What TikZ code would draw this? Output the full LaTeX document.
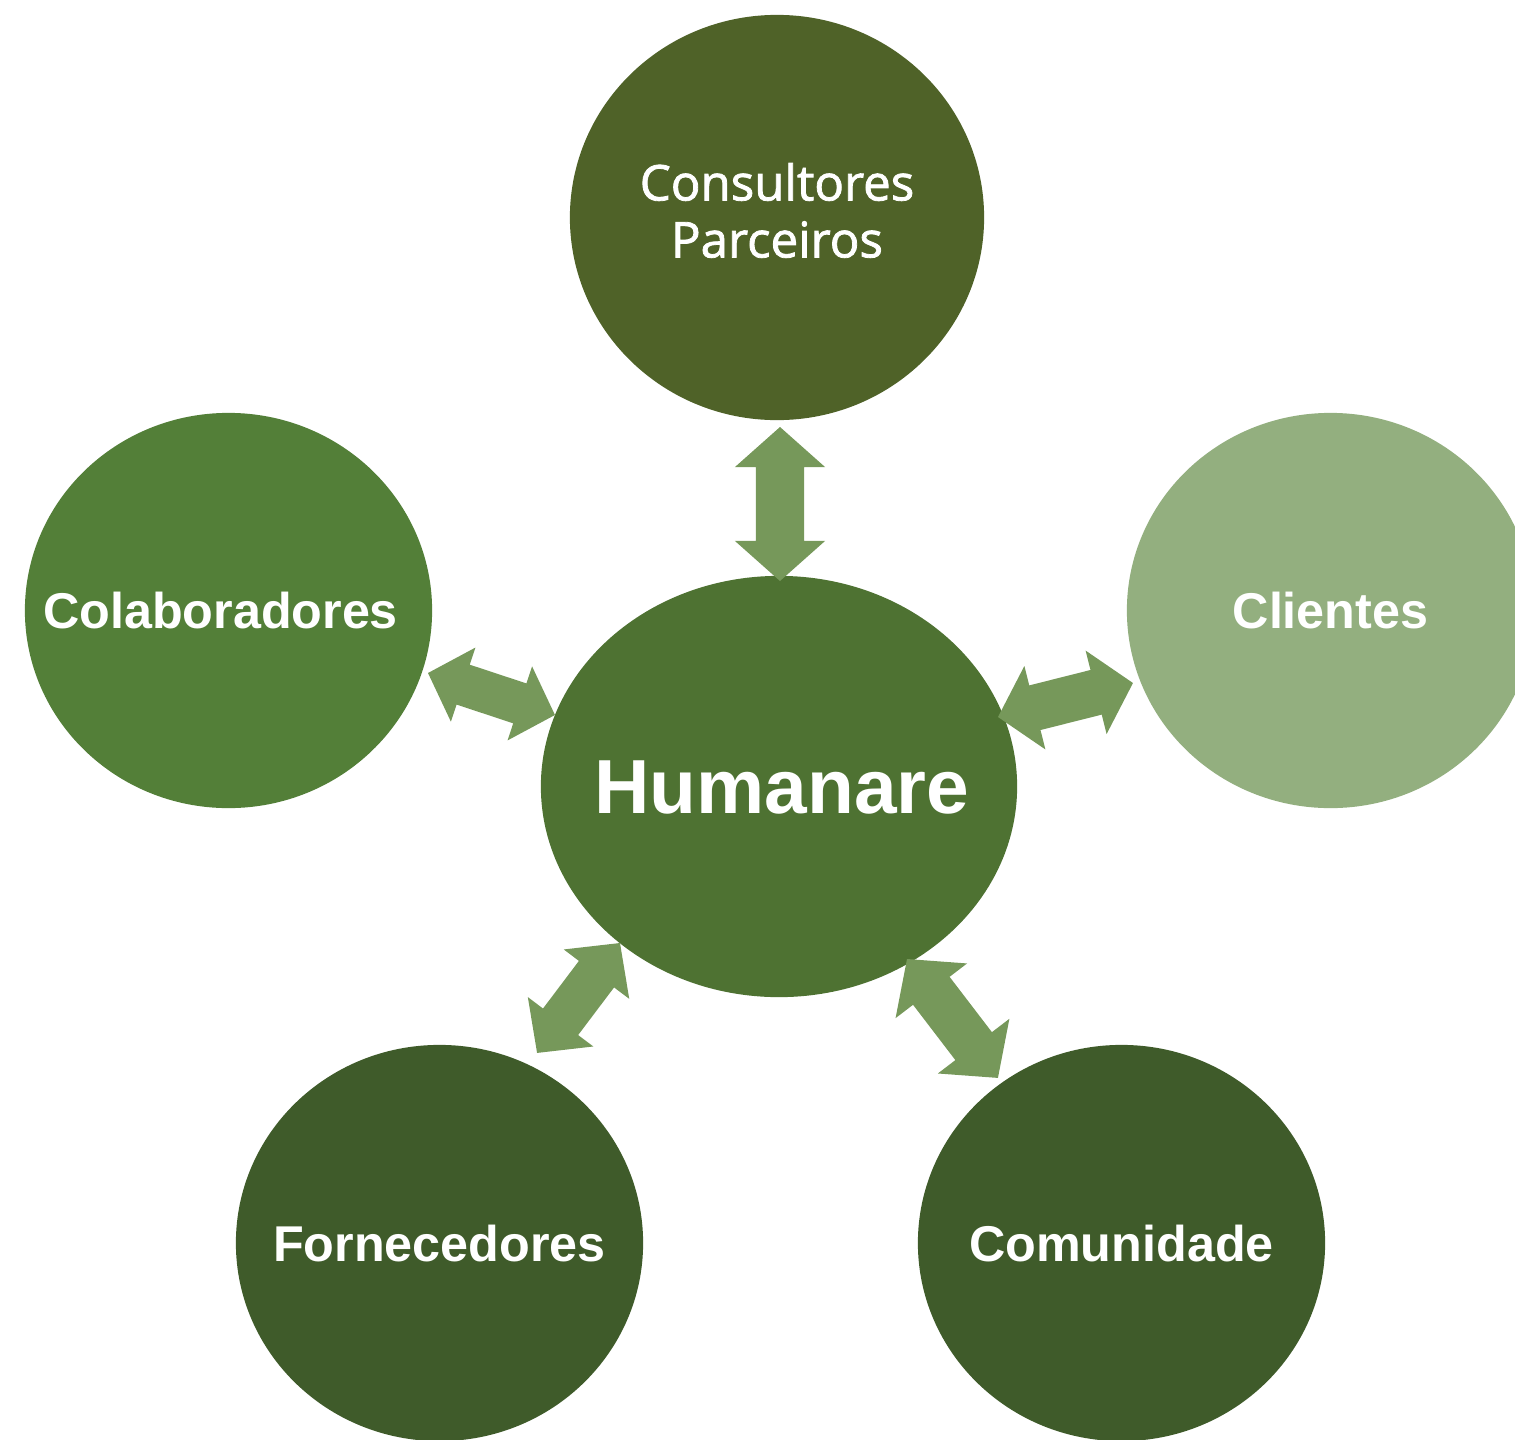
\documentclass[tikz,border=0pt]{standalone}
\usepackage{fontspec}
\setmainfont{Liberation Sans}
\newfontfamily\captionsans[FakeBold=1.6]{Open Sans}
\usetikzlibrary{shapes.geometric,calc}

\definecolor{olivegreen}{HTML}{4F6228}
\definecolor{colabgreen}{HTML}{537F38}
\definecolor{hubgreen}{HTML}{4E7232}
\definecolor{clientgreen}{HTML}{93AF7F}
\definecolor{deepgreen}{HTML}{3F5B2A}
\definecolor{linkgreen}{HTML}{76985A}

% double-headed block arrow from #1 to #2
% #3 shaft half width, #4 head half width, #5 head length
\newcommand\biarrow[5]{%
  \fill[link] let \p1=($(#2)-(#1)$), \n1={atan2(\y1,\x1)}, \n2={veclen(\x1,\y1)} in
    [shift={(#1)}, rotate=\n1]
    (0pt,0pt) -- (#5,#4) -- (#5,#3) -- ({\n2*1pt-#5},#3) -- ({\n2*1pt-#5},#4)
    -- ({\n2*1pt},0pt) -- ({\n2*1pt-#5},-#4) -- ({\n2*1pt-#5},-#3)
    -- (#5,-#3) -- (#5,-#4) -- cycle;}

\begin{document}
\begin{tikzpicture}[x=0.01cm, y=-0.01cm,
  disc/.style={ellipse, inner sep=0pt, outer sep=0pt, text=white},
  armlabel/.style={font=\bfseries\fontsize{14.3pt}{17pt}\selectfont,
                   text height=10.25pt, text depth=0pt},
  link/.style={fill=linkgreen}]
\useasboundingbox (0,0) rectangle (1515,1439);
\clip (0,0) rectangle (1515,1439);

% outer partners
\node[disc, fill=olivegreen, minimum width=4.14cm, minimum height=4.05cm,
      font=\captionsans\fontsize{14pt}{16.2pt}\selectfont] (top) at (777,217.5)
  {\makebox[0pt]{\begin{tabular}{@{}c@{}}Consultores\\Parceiros\end{tabular}}};
\node[disc, armlabel, fill=colabgreen, minimum width=4.07cm, minimum height=3.95cm]
  (colab) at (228.5,610.5) {\makebox[0pt]{\hspace*{-0.16cm}Colaboradores}};
\node[disc, armlabel, fill=clientgreen, minimum width=4.07cm, minimum height=3.95cm]
  (clientes) at (1330.5,610.5) {\makebox[0pt]{Clientes}};
\node[disc, armlabel, fill=deepgreen, minimum width=4.07cm, minimum height=3.96cm]
  (forn) at (439.5,1243) {\makebox[0pt]{Fornecedores}};
\node[disc, armlabel, fill=deepgreen, minimum width=4.07cm, minimum height=3.96cm]
  (comun) at (1121.5,1243) {\makebox[0pt]{Comunidade}};

% hub
\node[disc, fill=hubgreen, minimum width=4.76cm, minimum height=4.21cm,
      font=\bfseries\fontsize{21.8pt}{25pt}\selectfont,
      text height=15.6pt, text depth=0pt] (hum) at (779,786.5)
  {\makebox[0pt]{\hspace*{0.06cm}Humanare}};

% arrow end points
\coordinate (topA) at (780,427);   \coordinate (topB) at (780,581);
\coordinate (colA) at (428,673);   \coordinate (colB) at (555,715);
\coordinate (cliA) at (998,717);   \coordinate (cliB) at (1133,683);
\coordinate (forA) at (620,943);   \coordinate (forB) at (537,1053);
\coordinate (comA) at (907,959);   \coordinate (comB) at (998,1078);

\biarrow{topA}{topB}{0.24cm}{0.45cm}{0.40cm}
\biarrow{colA}{colB}{0.21cm}{0.39cm}{0.37cm}
\biarrow{cliA}{cliB}{0.23cm}{0.43cm}{0.38cm}
\biarrow{forA}{forB}{0.22cm}{0.41cm}{0.39cm}
\biarrow{comA}{comB}{0.23cm}{0.45cm}{0.40cm}
\end{tikzpicture}
\end{document}
